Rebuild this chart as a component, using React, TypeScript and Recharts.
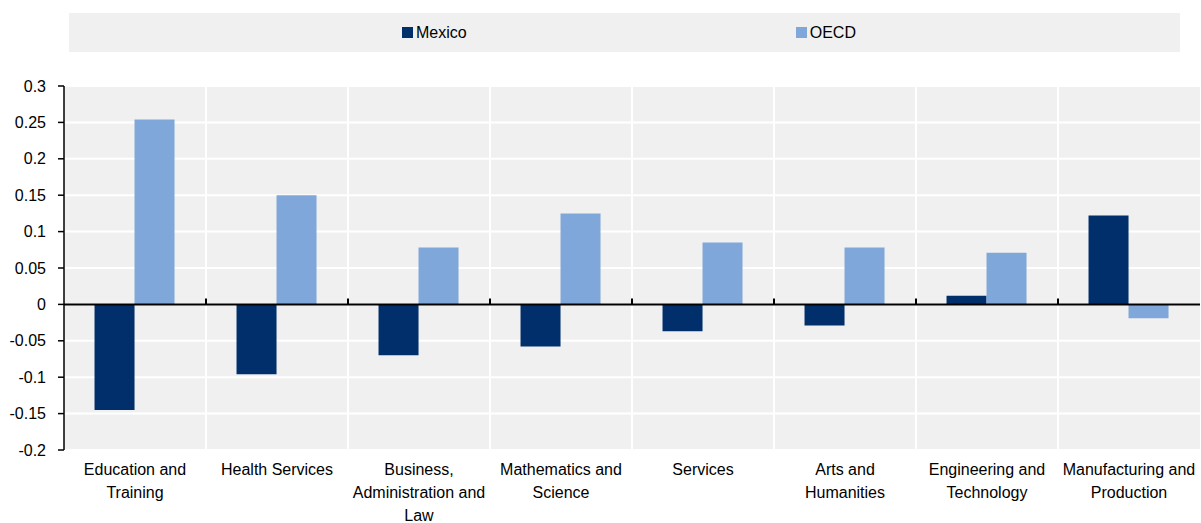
import React from 'react';
import { BarChart, Bar, XAxis, YAxis, CartesianGrid, ReferenceLine } from 'recharts';

const categories = [
  'Education and\nTraining',
  'Health Services',
  'Business,\nAdministration and\nLaw',
  'Mathematics and\nScience',
  'Services',
  'Arts and\nHumanities',
  'Engineering and\nTechnology',
  'Manufacturing and\nProduction',
];
const mexico = [-0.145, -0.096, -0.07, -0.058, -0.037, -0.029, 0.012, 0.122];
const oecd = [0.254, 0.15, 0.078, 0.125, 0.085, 0.078, 0.071, -0.019];
const yTicks = [-0.2, -0.15, -0.1, -0.05, 0, 0.05, 0.1, 0.15, 0.2, 0.25, 0.3];

const series = [
  { key: 'mexico', name: 'Mexico', color: '#002f6c' },
  { key: 'oecd', name: 'OECD', color: '#7fa7d9' },
];

const data = categories.map((c, i) => ({ name: c, mexico: mexico[i], oecd: oecd[i] }));

const FONT = 'Arial, "Liberation Sans", sans-serif';

const CategoryTick = (props: any) => {
  const { x, y, payload } = props;
  const lines = String(payload.value).split('\n');
  return (
    <text x={x} y={y} textAnchor="middle" fontSize={16} fill="#000" fontFamily={FONT}>
      {lines.map((l, i) => (
        <tspan key={i} x={x} y={y + 23 + i * 23}>{l}</tspan>
      ))}
    </text>
  );
};

// zero line with small tick marks at the category boundaries
const ZeroLine = (props: any) => {
  const { x1, y1, x2 } = props;
  const step = (x2 - x1) / categories.length;
  const marks = categories.slice(1).map((_, i) => x1 + step * (i + 1));
  return (
    <g>
      <line x1={x1} y1={y1} x2={x2} y2={y1} stroke="#000" strokeWidth={2} />
      {marks.map((mx) => (
        <line key={mx} x1={mx} x2={mx} y1={y1 - 6} y2={y1} stroke="#000" strokeWidth={2} />
      ))}
    </g>
  );
};

export default function App() {
  return (
    <div style={{ position: 'absolute', left: 0, top: 0, width: 1201, height: 523, background: '#fff', fontFamily: FONT }}>
      <div
        style={{
          position: 'absolute', left: 69, top: 13, width: 1111, height: 39, background: '#f0f0f0',
          display: 'flex', justifyContent: 'center', alignItems: 'center', gap: 329,
          paddingLeft: 9, boxSizing: 'border-box',
        }}
      >
        {series.map((s) => (
          <div key={s.key} style={{ display: 'flex', alignItems: 'center', fontSize: 16, color: '#000' }}>
            <span style={{ display: 'inline-block', width: 11, height: 11, background: s.color, marginRight: 3 }} />
            {s.name}
          </div>
        ))}
      </div>
      <BarChart
        width={1201}
        height={523}
        data={data}
        margin={{ top: 86, right: 1, left: 0, bottom: 0 }}
        barCategoryGap="21.5%"
        barGap={0}
      >
        <CartesianGrid
          fill="#f0f0f0"
          stroke="#ffffff"
          strokeWidth={2}
          verticalCoordinatesGenerator={({ offset }: any) =>
            categories.slice(1).map((_, i) => offset.left + (offset.width / categories.length) * (i + 1))
          }
        />
        <XAxis
          dataKey="name"
          axisLine={false}
          tickLine={false}
          tickSize={0}
          height={73}
          interval={0}
          tick={<CategoryTick />}
        />
        <YAxis
          domain={[-0.2, 0.3]}
          ticks={yTicks}
          width={64}
          axisLine={{ stroke: '#000', strokeWidth: 1.5 }}
          tickLine={{ stroke: '#000', strokeWidth: 1.5 }}
          tickSize={6}
          tickMargin={12}
          tick={{ fontSize: 16, fill: '#000', fontFamily: FONT }}
          interval={0}
        />
        {series.map((s) => (
          <Bar key={s.key} dataKey={s.key} name={s.name} fill={s.color} isAnimationActive={false} />
        ))}
        <ReferenceLine y={0} shape={<ZeroLine />} />
      </BarChart>
    </div>
  );
}
